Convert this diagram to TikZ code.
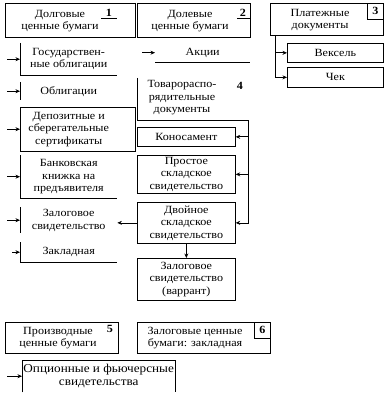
\documentclass[tikz,border=0pt]{standalone}
\usepackage{fontspec}
\setmainfont[FakeStretch=1.1]{Liberation Serif}
\usetikzlibrary{arrows.meta, positioning}

\begin{document}
\begin{tikzpicture}[
  x=1pt, y=-1pt,
  every node/.style={font=\fontsize{11}{12.5}\selectfont, inner sep=0pt, align=center},
  headbox/.style={draw, line width=0.7pt, anchor=north west},
  itembox/.style={anchor=north west},
  numbox/.style={draw, line width=0.7pt, anchor=north east, minimum width=16, minimum height=16},
  edgeline/.style={line width=0.7pt},
  arrow/.style={-{Stealth[length=4.5pt, width=4pt]}, line width=0.7pt},
]
\useasboundingbox (0,0) rectangle (386,395);

% Head boxes
\node[headbox, minimum width=130, minimum height=34] (debt) at (5,3) {};
\node (debttxt) at (60,21) {Долговые\\ценные бумаги};
\node (debtnum) at (109,13) {\bfseries 1};
\draw[edgeline] ([xshift=-8pt,yshift=-2pt]debtnum.south) -- ([xshift=8pt,yshift=-2pt]debtnum.south);

\node[headbox, minimum width=113, minimum height=34] (equity) at (137,3) {};
\node (equitytxt) at (190,21) {Долевые\\ценные бумаги};
\node (equitynum) at (243,13) {\bfseries 2};
\draw[edgeline] ([xshift=-6pt,yshift=-2pt]equitynum.south) -- ([xshift=7pt,yshift=-2pt]equitynum.south);

\node[headbox, minimum width=113, minimum height=32] (pay) at (270,3) {};
\node (paytxt) at (320,20) {Платежные\\документы};
\node[numbox] (paynum) at (pay.north east) {\bfseries 3};

% Debt securities
\node[itembox, minimum width=97, minimum height=32] (gov) at (20,43) {Государствен-\\ные облигации};
\node[itembox, minimum width=97, minimum height=18] (bond) at (20,82) {Облигации};
\node[itembox, minimum width=97, minimum height=44] (depo) at (20,107) {Депозитные и\\сберегательные\\сертификаты};
\node[itembox, minimum width=97, minimum height=43] (bank) at (20,155) {Банковская\\книжка на\\предъявителя};
\node[itembox, minimum width=97, minimum height=26] (pledge) at (20,207) {Залоговое\\свидетельство};
\node[itembox, minimum width=97, minimum height=20] (mort) at (20,242) {Закладная};

\draw[edgeline] (gov.north west) |- (gov.south east);
\draw[edgeline] (bond.north west) -- (bond.south west);
\draw[edgeline] (depo.north west) rectangle ([xshift=18pt]depo.south east);
\draw[edgeline] (bank.north west) |- (bank.south east);
\draw[edgeline] (pledge.north west) -- (pledge.south west);
\draw[edgeline] (mort.north west) |- (mort.south east);

\foreach \n in {gov, bond, depo, bank, pledge}
  \draw[arrow] ([xshift=-13pt]\n.west) -- (\n.west);
\draw[arrow] ([xshift=-8pt]mort.west) -- (mort.west);

% Equity and commodity documents
\node[itembox, minimum width=95, minimum height=19] (shares) at (155,43) {Акции};
\draw[edgeline] (shares.south west) -- (shares.south east);
\draw[arrow] ([xshift=-13pt]shares.west) -- (shares.west);

\node[itembox, minimum width=111, minimum height=42] (goods) at (137,78) {};
\node (goodstxt) at (182,98) {Товарораспо-\\рядительные\\документы};
\node (goodsnum) at (240,86) {\bfseries 4};
\draw[edgeline] (goods.north west) |- (goods.south east);

\node[headbox, minimum width=98, minimum height=19] (lading) at (137,127) {Коносамент};
\node[headbox, minimum width=98, minimum height=38] (simple) at (137,155) {Простое\\складское\\свидетельство};
\node[headbox, minimum width=98, minimum height=41] (dual) at (137,202) {Двойное\\складское\\свидетельство};
\node[headbox, minimum width=98, minimum height=42] (warrant) at (137,258) {Залоговое\\свидетельство\\(варрант)};

\draw[arrow] (goods.south east) |- (lading.east);
\draw[arrow] (goods.south east) |- (simple.east);
\draw[arrow] (goods.south east) |- (dual.east);
\draw[arrow] (dual) -- (warrant);
\draw[arrow] (dual.west) -- (dual.west -| pledge.east);

% Payment documents
\node[headbox, minimum width=96, minimum height=19] (bill) at (287,43) {Вексель};
\node[headbox, minimum width=96, minimum height=20] (cheque) at (287,67) {Чек};
\draw[arrow] ([xshift=5pt]pay.south west) |- (bill.west);
\draw[arrow] ([xshift=5pt]pay.south west) |- (cheque.west);

% Derivatives and mortgage securities
\node[headbox, minimum width=113, minimum height=31] (deriv) at (5,322) {};
\node (derivtxt) at (58,338) {Производные\\ценные бумаги};
\node (derivnum) at (110,329) {\bfseries 5};

\node[headbox, minimum width=133, minimum height=31] (mortsec) at (137,322) {};
\node (mortsectxt) at (195,338) {Залоговые ценные\\бумаги: закладная};
\node[numbox] (mortsecnum) at (mortsec.north east) {\bfseries 6};

\node[itembox, minimum width=153, minimum height=32, font=\fontsize{12}{13.5}\selectfont] (option) at (22,360) {Опционные и фьючерсные\\свидетельства};
\draw[edgeline] (option.south west) |- (option.north east) -- (option.south east);
\draw[arrow] ([xshift=-15pt]option.west) -- (option.west);

\end{tikzpicture}
\end{document}
